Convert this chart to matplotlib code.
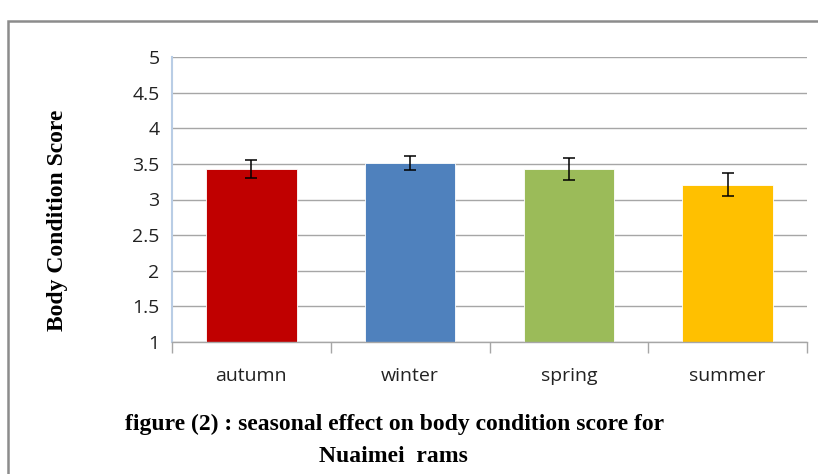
import numpy as np
import matplotlib.pyplot as plt
from matplotlib.patches import Rectangle

seasons = ["autumn", "winter", "spring", "summer"]
bcs = [3.43, 3.51, 3.43, 3.21]
bcs_err = [0.13, 0.10, 0.15, 0.155]
bar_colors = ["#C00000", "#4F81BD", "#9BBB59", "#FFC000"]
yticks = [1, 1.5, 2, 2.5, 3, 3.5, 4, 4.5, 5]
ytick_labels = ["1", "1.5", "2", "2.5", "3", "3.5", "4", "4.5", "5"]


def main():
    fig = plt.figure(figsize=(8.18, 4.74), dpi=100)
    ax = fig.add_axes([172/818, 1 - 342/474, (807-172)/818, (342-57)/474])

    x = np.arange(len(seasons))
    ax.bar(x, [v - 1 for v in bcs], bottom=1, width=0.57, color=bar_colors,
           edgecolor="white", linewidth=0.6, zorder=2)
    ax.errorbar(x, bcs, yerr=bcs_err, fmt="none", ecolor="black",
                elinewidth=1.1, capsize=4.5, capthick=1.1, zorder=3)

    ax.set_xlim(-0.5, 3.5)
    ax.set_ylim(1, 5)
    ax.set_yticks(yticks)
    ax.set_yticklabels(ytick_labels, fontsize=14, family="Open Sans", color="#222222")
    ax.yaxis.grid(True, color="#a6a6a6", linewidth=1.0, zorder=0)
    ax.set_axisbelow(True)
    ax.tick_params(axis="y", length=0, pad=9)

    ax.set_xticks(x)
    ax.set_xticklabels(seasons, fontsize=14, family="Open Sans", color="#222222")
    ax.set_xticks(np.arange(-0.5, 4.0, 1.0), minor=True)
    ax.tick_params(axis="x", which="major", length=0, pad=18)
    ax.tick_params(axis="x", which="minor", length=8, color="#a6a6a6", width=1)

    for s in ["top", "right"]:
        ax.spines[s].set_visible(False)
    ax.spines["left"].set_color("#b9cde5")
    ax.spines["left"].set_linewidth(1.5)
    ax.spines["bottom"].set_color("#a6a6a6")
    ax.spines["bottom"].set_linewidth(1.0)

    fig.text(58/818, 1 - 220/474, "Body Condition Score", rotation=90,
             ha="center", va="center", fontsize=17, fontweight="bold",
             family="Liberation Serif")

    fig.text(395/818, 1 - 424/474,
             "figure (2) : seasonal effect on body condition score for",
             ha="center", va="center", fontsize=17, fontweight="bold",
             family="Liberation Serif")
    fig.text(393/818, 1 - 456/474, "Nuaimei  rams",
             ha="center", va="center", fontsize=17, fontweight="bold",
             family="Liberation Serif")

    # outer chart border
    fig.patches.append(Rectangle((8/818, -0.1), 1.2, 1 - 21/474 + 0.1,
                                 transform=fig.transFigure, fill=False,
                                 edgecolor="#8c8c8c", linewidth=1.8))

    fig.savefig("out.png", dpi=100)


main()
